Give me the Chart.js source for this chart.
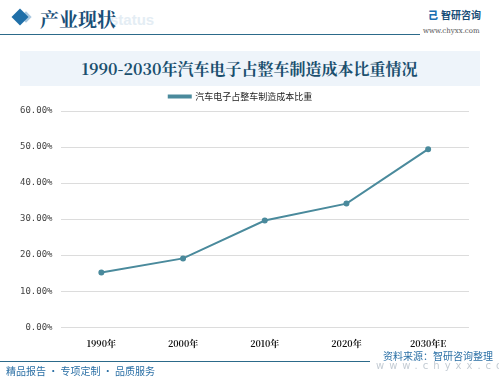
<!DOCTYPE html>
<html lang="zh">
<head>
<meta charset="UTF-8">
<title>汽车电子占整车制造成本比重</title>
<script src="https://cdn.jsdelivr.net/npm/chart.js"></script>
<style>
    body {
        margin: 0;
        width: 499px;
        height: 386px;
        background: #fff;
        position: relative;
        overflow: hidden;
        font-family: "Noto Sans CJK SC", sans-serif;
    }
    .diamond {
        position: absolute; left: 14px; top: 11px;
        width: 12px; height: 12px;
        background: #1f6fa8;
        transform: rotate(45deg);
    }
    .diamond2 {
        position: absolute; left: 22px; top: 13px;
        width: 8px; height: 8px;
        background: #a9c8e0;
        transform: rotate(45deg);
    }
    .head {
        position: absolute; left: 40px; top: 5px;
        font-family: "Noto Serif CJK SC", "Noto Sans CJK SC", serif;
        font-size: 19px; font-weight: bold; color: #1a4f78;
    }
    .status {
        position: absolute; left: 110px; top: 11px;
        font-size: 15px; font-weight: bold; color: #e4edf4;
        font-family: Arial, sans-serif;
    }
    .topline {
        position: absolute; left: 0; top: 34px; width: 420px; height: 1px;
        background: #2c6a8a;
    }
    .logo {
        position: absolute; left: 428px; top: 7px;
        font-size: 10px; color: #1a4f78; font-weight: bold;
    }
    .logo b { color: #1a6fb0; margin-right: 3px; }
    .site {
        position: absolute; left: 423px; top: 27px;
        font-size: 7px; color: #555; font-family: "DejaVu Serif", serif;
    }
    .band {
        position: absolute; left: 20px; top: 51px; width: 460px; height: 35px;
        background: #eef4fa;
    }
    .title {
        position: absolute; left: 0; top: 57px; width: 499px; text-align: center;
        font-family: "Noto Serif CJK SC", "Noto Sans CJK SC", serif;
        font-size: 16px; font-weight: bold; color: #1a4f6e;
    }
    #chartBox {
        position: absolute; left: 0; top: 80px; width: 499px; height: 272px;
    }
    .botline {
        position: absolute; left: 0; top: 361px; width: 370px; height: 1px;
        background: #2c6a8a;
    }
    .slogan {
        position: absolute; left: 6px; top: 363px;
        font-size: 10px; color: #2a6fa5;
    }
    .source {
        position: absolute; left: 383px; top: 348px;
        font-size: 10px; color: #2a6fa5;
    }
    .srcsite {
        position: absolute; left: 376px; top: 360px;
        font-size: 10px; color: #c4ccd4; letter-spacing: 5px;
        font-family: "DejaVu Sans", sans-serif;
    }
</style>
</head>
<body>
    <div class="diamond2"></div>
    <div class="diamond"></div>
    <div class="status">status</div>
    <div class="head">产业现状</div>
    <div class="topline"></div>
    <div class="logo"><b>己</b>智研咨询</div>
    <div class="site">www.chyxx.com</div>
    <div class="band"></div>
    <div class="title">1990-2030年汽车电子占整车制造成本比重情况</div>
    <div id="chartBox"><canvas id="costChart"></canvas></div>
    <div class="botline"></div>
    <div class="slogan">精品报告 · 专项定制 · 品质服务</div>
    <div class="srcsite">www.chyxx.com</div>
    <div class="source">资料来源：智研咨询整理</div>

<script>
    const years = ["1990年", "2000年", "2010年", "2020年", "2030年E"];
    const shares = [15.2, 19.1, 29.6, 34.3, 49.4];
    const seriesName = "汽车电子占整车制造成本比重";

    const lineColor = "#4a8a9c";

    new Chart(document.getElementById("costChart"), {
        type: "line",
        data: {
            labels: years,
            datasets: [{
                label: seriesName,
                data: shares,
                borderColor: lineColor,
                backgroundColor: lineColor,
                borderWidth: 2,
                pointRadius: 2,
                pointHoverRadius: 3,
                tension: 0
            }]
        },
        options: {
            responsive: true,
            maintainAspectRatio: false,
            animation: false,
            layout: { padding: { left: 12, right: 30, top: 2, bottom: 0 } },
            plugins: {
                legend: {
                    position: "top",
                    labels: {
                        boxWidth: 22,
                        boxHeight: 2,
                        color: "#222",
                        font: { size: 9, family: "Noto Sans CJK SC" },
                        padding: 10
                    }
                },
                tooltip: { enabled: false }
            },
            scales: {
                x: {
                    offset: true,
                    grid: { display: false },
                    border: { display: false },
                    ticks: {
                        color: "#111",
                        font: { size: 9, weight: "bold", family: "Noto Serif CJK SC, Noto Sans CJK SC" },
                        maxRotation: 0
                    }
                },
                y: {
                    min: 0,
                    max: 60,
                    grid: { color: "#dcdcdc", drawTicks: false },
                    border: { display: false },
                    ticks: {
                        stepSize: 10,
                        padding: 8,
                        color: "#444",
                        font: { size: 9, family: "DejaVu Sans Mono" },
                        callback: v => v.toFixed(2) + "%"
                    }
                }
            }
        }
    });
</script>
</body>
</html>
